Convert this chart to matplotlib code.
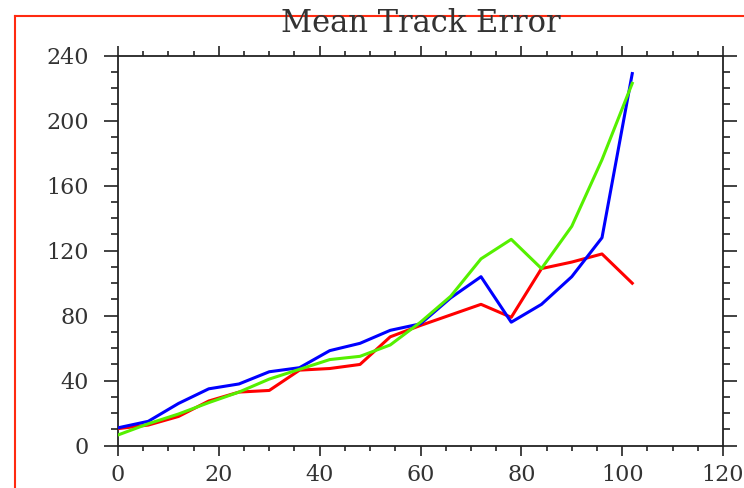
import matplotlib
matplotlib.use("Agg")
import matplotlib.pyplot as plt
from matplotlib.ticker import MultipleLocator
from matplotlib.lines import Line2D

# Data (forecast hour vs mean track error)
hours = [0, 6, 12, 18, 24, 30, 36, 42, 48, 54, 60, 66, 72, 78, 84, 90, 96, 102]
blue_err = [11, 15, 26, 35, 38, 45.5, 48, 58.5, 63, 71, 75, 91, 104, 76, 87, 104, 128, 229]
red_err = [10.5, 12.7, 18, 27.5, 33, 34, 46.5, 47.5, 50, 67, 74, 80.5, 87, 79, 109, 113, 118, 100]
green_err = [6.6, 13.5, 19.5, 26.5, 33, 41, 47, 53, 55, 62, 76, 92, 115, 127, 109, 135, 176, 223]
title = "Mean Track Error"

W, H = 744, 488
fig = plt.figure(figsize=(W / 100, H / 100), dpi=100)
fig.patch.set_facecolor("white")

# red frame (left and top edges visible)
fig.add_artist(Line2D([15 / W, 15 / W], [0, 1 - 16 / H], transform=fig.transFigure,
                      color="#ff2a10", lw=1.5))
fig.add_artist(Line2D([15 / W, 1], [1 - 16 / H, 1 - 16 / H], transform=fig.transFigure,
                      color="#ff2a10", lw=1.5))

left, right = 118 / W, 723 / W
bottom, top = 1 - 445.7 / H, 1 - 55.7 / H
ax = fig.add_axes([left, bottom, right - left, top - bottom])

ax.plot(hours, red_err, color="#ff0000", lw=2.2, zorder=3)
ax.plot(hours, blue_err, color="#0000ff", lw=2.2, zorder=4)
ax.plot(hours, green_err, color="#55f000", lw=2.2, zorder=5)

ax.set_xlim(0, 120)
ax.set_ylim(0, 240)
ax.xaxis.set_major_locator(MultipleLocator(20))
ax.xaxis.set_minor_locator(MultipleLocator(5))
ax.yaxis.set_major_locator(MultipleLocator(40))
ax.yaxis.set_minor_locator(MultipleLocator(10))

for s in ax.spines.values():
    s.set_color("#222222")
    s.set_linewidth(1.3)

font = "DejaVu Serif"
ax.tick_params(axis="both", which="both", direction="out", color="#222222", width=1.2,
               top=True, right=True, labeltop=False, labelright=False)
ax.tick_params(axis="y", which="major", length=10, pad=11)
ax.tick_params(axis="y", which="minor", length=5)
ax.tick_params(axis="x", which="major", length=7.5, pad=6)
ax.tick_params(axis="x", which="minor", length=3.8)
for lab in ax.get_xticklabels() + ax.get_yticklabels():
    lab.set_fontfamily(font)
    lab.set_fontsize(16)
    lab.set_color("#333333")

fig.text(421 / W, 1 - 32 / H, title, ha="center", va="baseline",
         fontfamily=font, fontsize=22, color="#333333")

fig.savefig("out.png", dpi=100, facecolor="white")
